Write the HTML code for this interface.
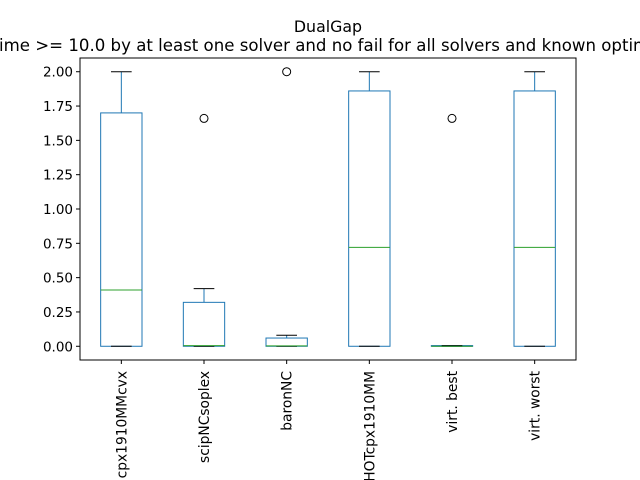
<!DOCTYPE html>
<html><head><meta charset="utf-8"><style>body{margin:0;background:#fff}svg{display:block}text{font-family:"DejaVu Sans","Liberation Sans",sans-serif;fill:#000}</style></head>
<body>
<svg id="chart" width="640" height="480" xmlns="http://www.w3.org/2000/svg">
<text x="328" y="32" font-size="15.8" text-anchor="middle">DualGap</text>
<text x="-1" y="51" font-size="16.6">ime &gt;= 10.0 by at least one solver and no fail for all solvers and known optimal</text>
<rect x="80" y="58" width="496" height="302" fill="none" stroke="#000" stroke-width="1"/>
<g id="marks"></g>
</svg>
<script>
const categories=["cpx1910MMcvx","scipNCsoplex","baronNC","HOTcpx1910MM","virt. best","virt. worst"];
const whiskerLow=[0,0,0,0,0,0];
const q1=[0,0,0,0,0,0];
const medians=[0.41,0.005,0.003,0.72,0,0.72];
const q3=[1.70,0.32,0.06,1.86,0.005,1.86];
const whiskerHigh=[2.0,0.42,0.08,2.0,0.005,2.0];
const outliers=[[],[1.66],[2.0],[],[1.66],[]];
const yTicks=[0,0.25,0.5,0.75,1.0,1.25,1.5,1.75,2.0];
const yTickLabels=["0.00","0.25","0.50","0.75","1.00","1.25","1.50","1.75","2.00"];
const X0=80,W=496,Y0=58,H=302,ymin=-0.1,ymax=2.1;
const y=v=>Y0+H*(ymax-v)/(ymax-ymin);
const step=W/categories.length;
const x=i=>X0+step*(i+0.5);
const g=document.getElementById('marks');
const NS="http://www.w3.org/2000/svg";
function mk(t,a){const e=document.createElementNS(NS,t);for(const k in a)e.setAttribute(k,a[k]);g.appendChild(e);return e;}
yTicks.forEach((v,i)=>{
 const t=mk('line',{x1:X0-4,x2:X0,y1:y(v),y2:y(v),stroke:'#000'});
 
 
 const l=mk('text',{x:X0-7,y:y(v)+5,'font-size':'13.5','text-anchor':'end'});l.textContent=yTickLabels[i];
 
 
});
const bw=step*0.5,cw=step*0.25;
categories.forEach((c,i)=>{
 const cx=x(i);
 const t=mk('line',{x1:cx,x2:cx,y1:Y0+H,y2:Y0+H+4,stroke:'#000'});
 
 
 const l=mk('text',{x:0,y:0,'font-size':'13.8','text-anchor':'end',transform:`translate(${cx+5},${Y0+H+11}) rotate(-90)`});l.textContent=c;
 
 
 const wl=mk('line',{x1:cx,x2:cx,y1:y(q1[i]),y2:y(whiskerLow[i]),stroke:'#1f77b4'});
 
 
 const wh=mk('line',{x1:cx,x2:cx,y1:y(q3[i]),y2:y(whiskerHigh[i]),stroke:'#1f77b4'});
 
 
 const b=mk('rect',{x:cx-bw/2,y:y(q3[i]),width:bw,height:Math.max(0.5,y(q1[i])-y(q3[i])),fill:'none',stroke:'#1f77b4'});
 
 
 const cl=mk('line',{x1:cx-cw/2,x2:cx+cw/2,y1:y(whiskerLow[i]),y2:y(whiskerLow[i]),stroke:'#000'});
 
 
 const ch=mk('line',{x1:cx-cw/2,x2:cx+cw/2,y1:y(whiskerHigh[i]),y2:y(whiskerHigh[i]),stroke:'#000'});
 
 
 const m=mk('line',{x1:cx-bw/2,x2:cx+bw/2,y1:y(medians[i]),y2:y(medians[i]),stroke:'#2ca02c'});
 
 
 outliers[i].forEach(o=>{
  const p=mk('circle',{cx:cx,cy:y(o),r:4,fill:'none',stroke:'#000'});
  
  
 });
});
</script>
</body></html>
